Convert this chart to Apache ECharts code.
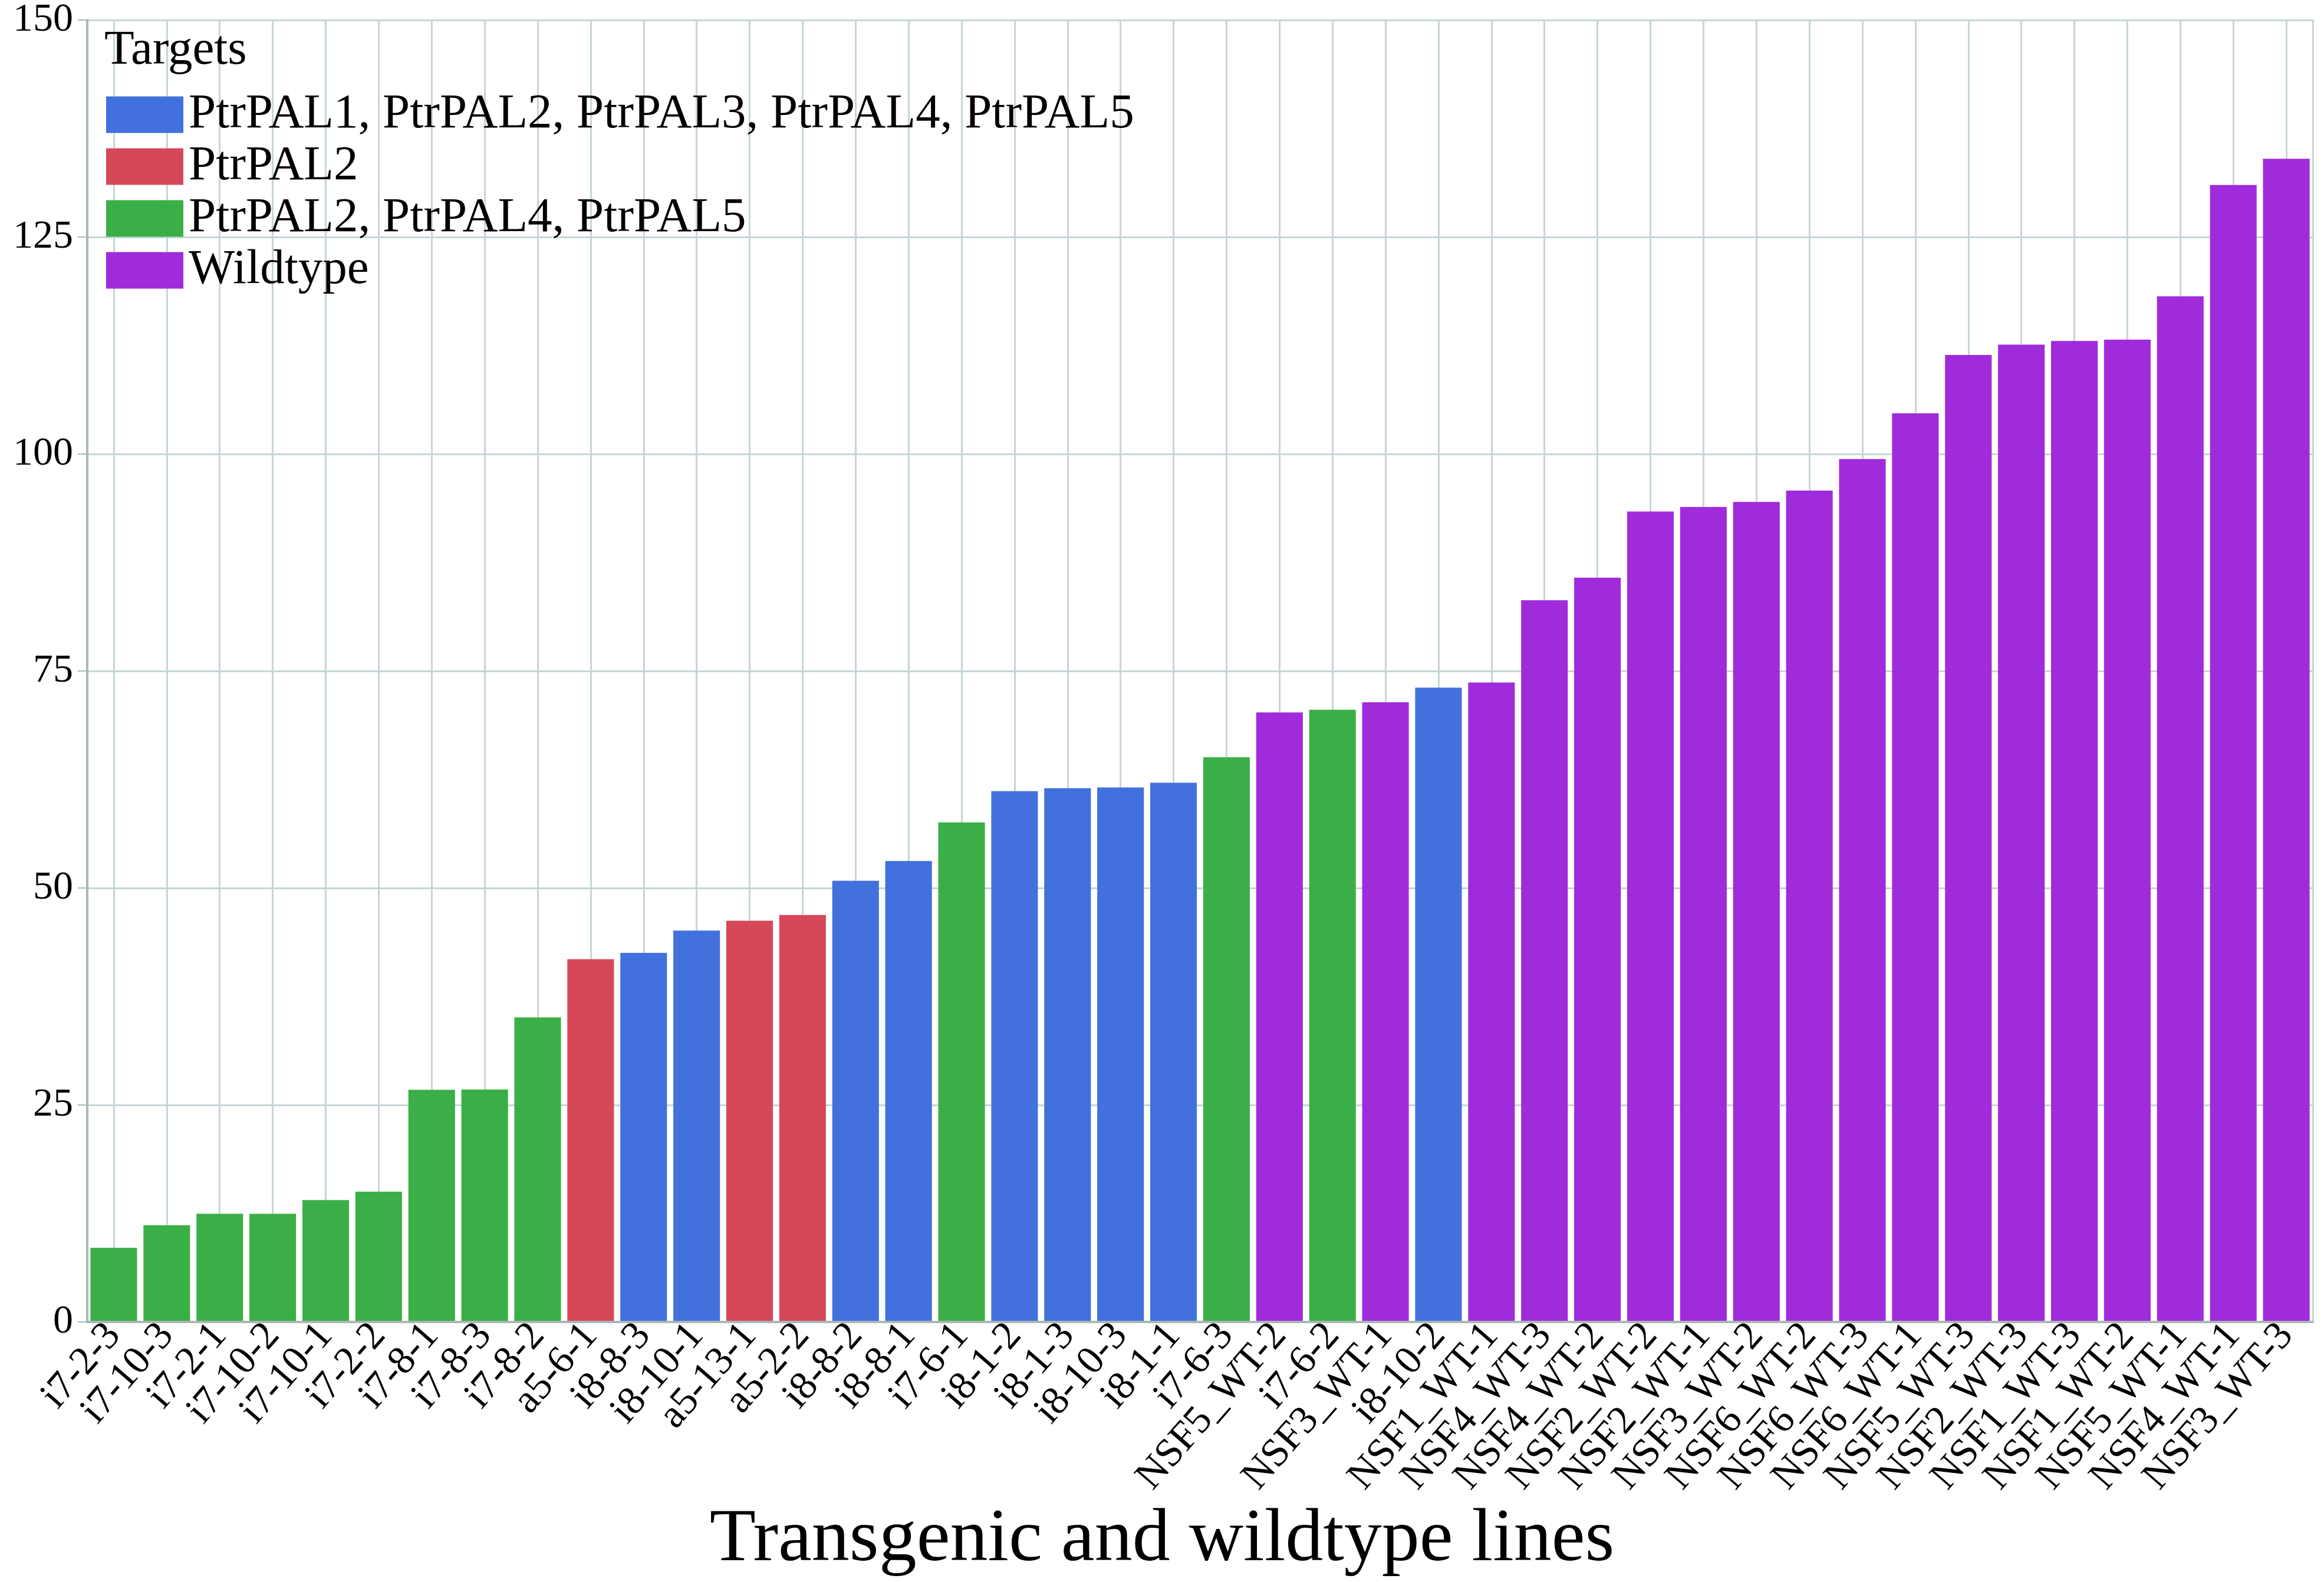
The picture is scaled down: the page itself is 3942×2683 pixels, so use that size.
<!DOCTYPE html>
<html>
<head>
<meta charset="utf-8">
<style>
html,body{margin:0;padding:0;background:#fff;}
#chart{width:3942px;height:2683px;}
</style>
<script src="https://cdn.jsdelivr.net/npm/echarts@6/dist/echarts.min.js"></script>
</head>
<body>
<div id="chart"></div>
<script>
const categories = ["i7-2-3","i7-10-3","i7-2-1","i7-10-2","i7-10-1","i7-2-2","i7-8-1","i7-8-3","i7-8-2","a5-6-1",
  "i8-8-3","i8-10-1","a5-13-1","a5-2-2","i8-8-2","i8-8-1","i7-6-1","i8-1-2","i8-1-3","i8-10-3",
  "i8-1-1","i7-6-3","NSF5_WT-2","i7-6-2","NSF3_WT-1","i8-10-2","NSF1_WT-1","NSF4_WT-3","NSF4_WT-2","NSF2_WT-2",
  "NSF2_WT-1","NSF3_WT-2","NSF6_WT-2","NSF6_WT-3","NSF6_WT-1","NSF5_WT-3","NSF2_WT-3","NSF1_WT-3","NSF1_WT-2","NSF5_WT-1",
  "NSF4_WT-1","NSF3_WT-3"];
const values = [8.55,11.14,12.46,12.46,14.05,15.02,26.75,26.78,35.09,41.80,
  42.53,45.09,46.23,46.89,50.83,53.10,57.55,61.15,61.50,61.58,
  62.13,65.06,70.23,70.54,71.40,73.08,73.67,83.15,85.75,93.38,
  93.90,94.48,95.78,99.43,104.69,111.41,112.60,113.02,113.18,118.18,
  130.99,134.01];
// target group of each line: 0 = all five PAL, 1 = PtrPAL2, 2 = PtrPAL2/4/5, 3 = Wildtype
const groups = [2,2,2,2,2,2,2,2,2,1,
  0,0,1,1,0,0,2,0,0,0,
  0,2,3,2,3,0,3,3,3,3,
  3,3,3,3,3,3,3,3,3,3,
  3,3];
const groupNames = ["PtrPAL1, PtrPAL2, PtrPAL3, PtrPAL4, PtrPAL5","PtrPAL2","PtrPAL2, PtrPAL4, PtrPAL5","Wildtype"];
const groupColors = ["#4270DD","#D64858","#3BAF47","#A02BDB"];
const yTicks = [0,25,50,75,100,125,150];

const FONT = "'Liberation Serif', 'Times New Roman', serif";
const chart = echarts.init(document.getElementById('chart'), null, {renderer:'canvas'});

const series = groupNames.map((name, g) => ({
  name: name,
  type: 'bar',
  stack: 'all',
  xAxisIndex: 0,
  barCategoryGap: '12%',
  itemStyle: {color: groupColors[g]},
  data: values.map((v, i) => groups[i] === g ? v : null)
}));

// helper axis with two half-slots per line, so its split lines fall on the centre of each line's bar
const halfSlots = categories.flatMap(c => [c + ' a', c + ' b']);

chart.setOption({
  backgroundColor: '#ffffff',
  animation: false,
  title: [
    {text: 'Targets', left: 177, top: 45, padding: 0,
     textStyle: {fontFamily: FONT, fontSize: 83, fontWeight: 'normal', color: '#000'}},
    {text: 'Transgenic and wildtype lines', left: 'center', top: 2548, padding: 0,
     textStyle: {fontFamily: FONT, fontSize: 128, fontWeight: 'normal', color: '#000'}}
  ],
  legend: {
    orient: 'vertical', left: 175, top: 148,
    itemWidth: 131, itemHeight: 62, itemGap: 5,
    icon: 'rect',
    textStyle: {fontFamily: FONT, fontSize: 83, color: '#000', padding: [0,0,0,4]},
    data: groupNames
  },
  grid: {left: 148, right: 19, top: 34, bottom: 441, show: true,
    borderColor: '#a9b7b7', borderWidth: 2, backgroundColor: 'transparent'},
  xAxis: [{
    type: 'category',
    data: categories,
    boundaryGap: true,
    z: 3,
    axisLine: {show: true, lineStyle: {color: '#a9b7b7', width: 4}},
    axisTick: {show: false},
    splitLine: {show: false},
    axisLabel: {interval: 0, rotate: 49, margin: 12, fontFamily: FONT, fontSize: 68, color: '#000'}
  }, {
    type: 'category',
    data: halfSlots,
    boundaryGap: true,
    position: 'bottom',
    axisLine: {show: false},
    axisTick: {show: false},
    axisLabel: {show: false},
    splitLine: {show: true, interval: (i) => i % 2 === 1, lineStyle: {color: '#c5d6d8', width: 3}}
  }],
  yAxis: {
    type: 'value', min: yTicks[0], max: yTicks[yTicks.length-1], interval: 25,
    axisLine: {show: true, lineStyle: {color: '#a9b7b7', width: 4}},
    axisTick: {show: true, length: 16, lineStyle: {color: '#a9b7b7', width: 2}},
    splitLine: {show: true, lineStyle: {color: '#c5d6d8', width: 3}},
    axisLabel: {margin: 24, fontFamily: FONT, fontSize: 68, color: '#000'}
  },
  series: series
});
</script>
</body>
</html>
